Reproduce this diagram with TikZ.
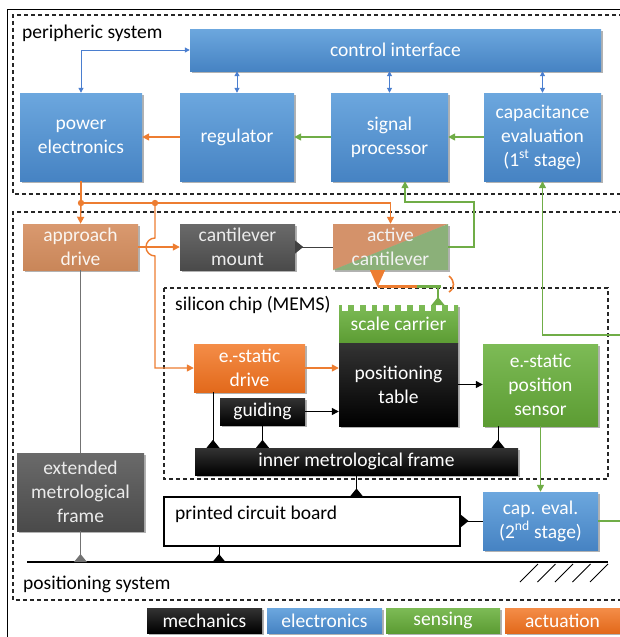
\documentclass[tikz,border=0pt]{standalone}
\usepackage{fontspec}
\setmainfont{Carlito}
\usetikzlibrary{arrows.meta,shadows,calc}
\definecolor{bluetop}{HTML}{6CA7DE}
\definecolor{bluebot}{HTML}{4683C3}
\definecolor{greentop}{HTML}{7DBB56}
\definecolor{greenbot}{HTML}{5C9C33}
\definecolor{orgtop}{HTML}{F48D48}
\definecolor{orgbot}{HTML}{E2691B}
\definecolor{graytop}{HTML}{6A6A6A}
\definecolor{graybot}{HTML}{4A4A4A}
\definecolor{brtop}{HTML}{D9996F}
\definecolor{brbot}{HTML}{C98659}
\definecolor{cantor}{HTML}{D4926A}
\definecolor{cantgr}{HTML}{8BB079}
\definecolor{arrorange}{HTML}{ED7D31}
\definecolor{arrgreen}{HTML}{70AD47}
\definecolor{arrblue}{HTML}{4A7ECF}
\tikzset{
  box/.style={rectangle, inner sep=0pt, align=center, text=white,
    font=\fontsize{19.5}{24}\selectfont,
    drop shadow={shadow xshift=1.5pt,shadow yshift=-1.5pt,opacity=0.3,fill=black}},
  bluebox/.style={box, top color=bluetop, bottom color=bluebot},
  greenbox/.style={box, top color=greentop, bottom color=greenbot},
  orangebox/.style={box, top color=orgtop, bottom color=orgbot},
  graybox/.style={box, top color=graytop, bottom color=graybot, text=black!8},
  blackbox/.style={box, top color=black!80, bottom color=black},
  brownbox/.style={box, top color=brtop, bottom color=brbot, text=white!92!brown},
  lbl/.style={inner sep=0pt, font=\fontsize{19.5}{24}\selectfont, text=black},
  frame/.style={dashed, dash pattern=on 4pt off 3pt, line width=1.1pt, black!85},
  barr/.style={arrblue, line width=1pt, {Triangle[length=5pt,width=5pt]}-{Triangle[length=5pt,width=5pt]}},
  oarr/.style={arrorange, line width=1.4pt, -{Triangle[length=7pt,width=7pt]}},
  oline/.style={arrorange, line width=1.4pt},
  garr/.style={arrgreen, line width=1.4pt, -{Triangle[length=7pt,width=7pt]}},
  gline/.style={arrgreen, line width=1.4pt},
  karr/.style={black, line width=1.2pt, -{Triangle[length=7pt,width=7pt]}},
  mline/.style={black, line width=1pt},
  triup/.pic={\fill (-6.5,0) -- (6.5,0) -- (0,-8) -- cycle;},
  triright/.pic={\fill (0,-6.5) -- (0,6.5) -- (8,0) -- cycle;},
}
\begin{document}
\begin{tikzpicture}[x=1pt,y=-1pt]
\useasboundingbox (0,0) rectangle (620,637);
% frames
\draw[line width=1.2pt] (7.5,645) -- (7.5,9.5) -- (630,9.5);
\draw[frame] (630,15) -- (13,15) -- (13,194) -- (630,194);
\draw[frame] (630,212) -- (13,212) -- (13,600) -- (630,600);
\draw[frame] (164,288) rectangle (608,479);
\node[lbl, anchor=west] (lper) at (22,33) {peripheric system};
\node[lbl, anchor=west] (lsil) at (175,305) {silicon chip (MEMS)};
\node[lbl, anchor=west] (lpos) at (23,584) {positioning system};

% peripheric system
\node[bluebox, minimum width=411pt, minimum height=42pt] (ctrl) at (395.5,50) {control interface};
\node[bluebox, minimum width=122pt, minimum height=88pt] (pe) at (81,137) {power\\electronics};
\node[bluebox, minimum width=114pt, minimum height=88pt] (reg) at (237,137) {regulator};
\node[bluebox, minimum width=117pt, minimum height=88pt] (sig) at (389.5,137) {signal\\processor};
\node[bluebox, minimum width=117pt, minimum height=88pt] (cap1) at (542.5,137) {capacitance\\evaluation\\(1\textsuperscript{st} stage)};

% positioning system
\node[brownbox, minimum width=115pt, minimum height=46pt] (appr) at (80.5,247) {approach\\drive};
\node[graybox, minimum width=115pt, minimum height=46pt] (mount) at (237.5,247) {cantilever\\mount};
\node[box, minimum width=115pt, minimum height=46pt, text=white!95!black,
  path picture={
    \fill[cantor] (path picture bounding box.south west) -- (path picture bounding box.north west) -- (path picture bounding box.north east) -- cycle;
    \fill[cantgr] (path picture bounding box.south west) -- (path picture bounding box.south east) -- (path picture bounding box.north east) -- cycle;}
  ] (cant) at (390.5,247) {active\\cantilever};
\node[greenbox, minimum width=119pt, minimum height=38pt] (scale) at (398.5,324) {\raisebox{-4pt}{scale carrier}};
\node[blackbox, minimum width=119pt, minimum height=83pt] (table) at (398.5,384.5) {positioning\\table};
\foreach \k in {0,...,9} { \fill[white] (342+\k*11.8,305) rectangle ++(6,6); }
\node[orangebox, minimum width=111pt, minimum height=48pt] (edrive) at (249.5,368) {e.-static\\drive};
\node[blackbox, minimum width=85pt, minimum height=27pt] (guide) at (262.5,411.5) {guiding};
\node[greenbox, minimum width=115pt, minimum height=82pt] (sensor) at (540.5,385) {e.-static\\position\\sensor};
\node[blackbox, minimum width=323pt, minimum height=27pt] (inner) at (356.5,461.5) {inner metrological frame};
\node[graybox, minimum width=127pt, minimum height=78pt] (ext) at (80.5,492) {extended\\metrological\\frame};
\node[rectangle, draw=black, line width=1.1pt, fill=white, minimum width=296pt, minimum height=49pt] (pcb) at (312,521.5) {};
\node[lbl, anchor=west] (pcbl) at (175,514) {printed circuit board};
\node[bluebox, minimum width=115pt, minimum height=58pt] (cap2) at (540.5,521) {cap. eval.\\(2\textsuperscript{nd} stage)};

% legend
\node[blackbox, minimum width=115pt, minimum height=25pt] (lmech) at (204.5,620.5) {mechanics};
\node[bluebox, minimum width=115pt, minimum height=25pt] (lelec) at (324.5,620.5) {electronics};
\node[greenbox, minimum width=114pt, minimum height=25pt] (lsens) at (443,620.5) {sensing};
\node[orangebox, minimum width=115pt, minimum height=25pt] (lact) at (562.5,620.5) {actuation};

% electronics connectors
\draw[barr] (ctrl.west) -| (pe.north);
\draw[barr] (ctrl.south -| reg.north) -- (reg.north);
\draw[barr] (ctrl.south -| sig.north) -- (sig.north);
\draw[barr] (ctrl.south -| cap1.north) -- (cap1.north);
\draw[oarr] (reg.west) -- (pe.east);
\draw[garr] (sig.west) -- (reg.east);
\draw[garr] (cap1.west) -- (sig.east);

% actuation distribution
\coordinate (j1) at (pe.south |- 0,203);
\coordinate (j2) at (155,203);
\coordinate (j3) at (cant.north |- 0,203);
\draw[oline] (pe.south) -- (j1);
\draw[oarr] (j1) -- (appr.north);
\draw[oarr] (j1) -- (j3) -- (cant.north);
\draw[oarr] (j2) -- (155,238) arc[start angle=270, end angle=90, radius=9] -- (155,368) -- (edrive.west);
\fill[arrorange] (j1) circle (3.2pt);
\fill[arrorange] (j2) circle (3.2pt);
\draw[oarr] (appr.east) -- (mount.west);
\draw[oarr] (edrive.east) -- (edrive.east -| table.west);

% sensing
\draw[garr] (cant.east) -| (474,202) -| ([xshift=15.5pt]sig.south);
\draw[garr] (630,335) -| (cap1.south);
\draw[gline] (cap2.east) -- ++(40,0);
\draw[garr] (sensor.south) -- (cap2.north);

% mechanics
\draw[black!75, line width=1pt] (mount.east) -- (cant.west);
\pic[black!75] at (mount.east) {triright};
\draw[black!55, line width=1pt] (appr.south) -- (ext.north);
\coordinate (g1) at (27,562);
\coordinate (g2) at (608,562);
\draw[line width=1.3pt] (g1) -- (g2);
\foreach \k in {0,...,4} { \draw[line width=1pt] (520+\k*17.5,582) -- (538+\k*17.5,564); }
\draw[black!55, line width=1pt] (ext.south) -- (ext.south |- g1);
\pic[black!55] at (ext.south |- g1) {triup};
\draw[mline] ([xshift=-93pt]pcb.south) -- ([xshift=-93pt]pcb.south |- g1);
\pic[black] at ([xshift=-93pt]pcb.south |- g1) {triup};
\draw[mline] (inner.south) -- (inner.south |- pcb.north);
\pic[black] at (inner.south |- pcb.north) {triup};
\draw[mline] (cap2.west) -- (cap2.west -| pcb.east);
\pic[black] at (cap2.west -| pcb.east) {triright};
\draw[mline] ([xshift=-36.5pt]edrive.south) -- ([xshift=-36.5pt]edrive.south |- inner.north);
\pic[black] at ([xshift=-36.5pt]edrive.south |- inner.north) {triup};
\draw[mline] (guide.south) -- (guide.south |- inner.north);
\pic[black] at (guide.south |- inner.north) {triup};
\draw[mline] ([xshift=-42.5pt]sensor.south) -- ([xshift=-42.5pt]sensor.south |- inner.north);
\pic[black] at ([xshift=-42.5pt]sensor.south |- inner.north) {triup};
\draw[karr] (guide.east) -- (guide.east -| table.west);
\draw[karr] (table.east) -- (table.east -| sensor.west);

% cantilever to scale carrier
\coordinate (ct1) at ([xshift=-20.5pt]cant.south);
\coordinate (ct2) at ([xshift=-5.5pt]cant.south);
\coordinate (ctip) at (377.5,287);
\coordinate (bm) at (417,286);
\coordinate (bg) at (441,286);
\coordinate (sc) at (438,305);
\fill[arrorange] (ct1) -- (ct2) -- (ctip) -- cycle;
\draw[arrorange, line width=3pt] (ctip |- bm) -- (bm);
\draw[arrgreen, line width=3pt] (bm) -- (bg);
\draw[arrgreen, line width=2pt] (sc |- bm) -- (sc);
\pic[arrgreen] at (sc) {triup};
\draw[arrorange, line width=1.6pt] (449,276) .. controls (455,281) and (455,288) .. (449,292);
\end{tikzpicture}
\end{document}
